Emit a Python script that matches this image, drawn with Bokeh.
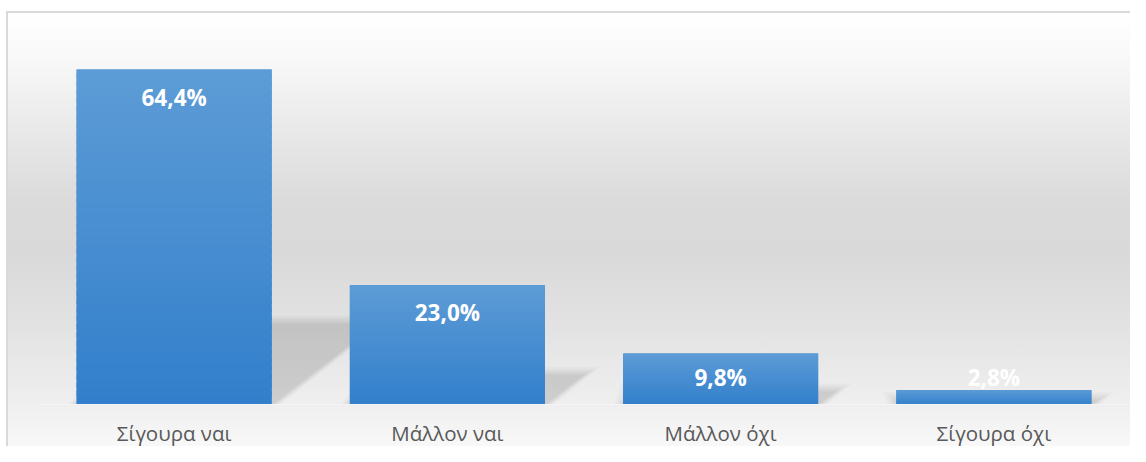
from bokeh.plotting import figure
from bokeh.models import Range1d, FixedTicker, ColumnDataSource
from bokeh.core.properties import value
from bokeh.embed import file_html
from bokeh.resources import INLINE

categories = ["Σίγουρα ναι", "Μάλλον ναι", "Μάλλον όχι", "Σίγουρα όχι"]
values = [64.4, 23.0, 9.8, 2.8]
labels = ["64,4%", "23,0%", "9,8%", "2,8%"]

Y_MAX = 70
W, H = 1130, 446
B_LEFT, B_RIGHT, B_TOP, B_BOTTOM = 37, 0, 40, 0
PLOT_H = 364                      # height in px of 0..Y_MAX
FRAME_W = W - B_LEFT - B_RIGHT
FRAME_H = H - B_TOP - B_BOTTOM
PPU_Y = PLOT_H / Y_MAX
PPU_X = FRAME_W / len(categories)
Y_MIN = Y_MAX - FRAME_H / PPU_Y
BAR_W = 195 / PPU_X

bg_gradient = ("linear-gradient(to bottom, #ffffff 0px, #ffffff 13px, #f8f8f8 60px, "
               "#e9e9e9 130px, #dbdbdb 200px, #d9d9d9 250px, #e3e3e3 330px, "
               "#efefef 404px, #f8f8f8 446px)")
p = figure(width=W, height=H, output_backend="svg", toolbar_location=None,
           x_range=Range1d(0, len(categories)), y_range=Range1d(Y_MIN, Y_MAX),
           min_border_left=B_LEFT, min_border_right=B_RIGHT,
           min_border_top=B_TOP, min_border_bottom=B_BOTTOM)
p.styles = {
    "background": ("linear-gradient(#d9d9d9,#d9d9d9) 6px 11px / 2px 100% no-repeat, "
                   "linear-gradient(#d9d9d9,#d9d9d9) 6px 11px / 100% 2px no-repeat, "
                   + bg_gradient + " 8px 0px / 100% 100% no-repeat, #ffffff"),
}
p.background_fill_alpha = 0
p.border_fill_alpha = 0
p.outline_line_color = None
p.grid.visible = False
p.yaxis.visible = False

xs = [i + 0.5 for i in range(len(categories))]

# perspective shadows (blurred by layered expansion)
def shadow_poly(xc, v, grow_px):
    gx = grow_px / PPU_X
    gy = grow_px / PPU_Y
    h = 0.24 * v
    s = 1.62 * v * (PPU_Y / 5.2) / PPU_X
    xl = xc - BAR_W / 2 - gx
    xr = xc + BAR_W / 2 + gx
    return ([xl, xr, xr + s + gx, xl + s - gx], [0, 0, h + gy, h + gy])

for grow, alpha in [(9, 0.018), (7, 0.022), (5, 0.026), (3, 0.03), (1, 0.034)]:
    sx, sy = [], []
    for xc, v in zip(xs, values):
        a, b = shadow_poly(xc, v, grow)
        sx.append(a)
        sy.append(b)
    p.patches(sx, sy, fill_color="black", fill_alpha=alpha, line_color=None)

# gradient bars (light top -> darker bottom)
top_rgb = (93, 156, 214)
bot_rgb = (50, 127, 203)
mid = "#%02x%02x%02x" % tuple(round((a + b) / 2) for a, b in zip(top_rgb, bot_rgb))
p.vbar(x=xs, top=values, bottom=0, width=BAR_W, fill_color=mid, line_color=None)
N = 40
bx, bt, bb, bc = [], [], [], []
for xc, v in zip(xs, values):
    for i in range(N):
        f = (i + 0.5) / N
        r = round(bot_rgb[0] + (top_rgb[0] - bot_rgb[0]) * f)
        g = round(bot_rgb[1] + (top_rgb[1] - bot_rgb[1]) * f)
        b = round(bot_rgb[2] + (top_rgb[2] - bot_rgb[2]) * f)
        bx.append(xc)
        bb.append(v * i / N)
        bt.append(min(v, v * (i + 1.6) / N))
        bc.append("#%02x%02x%02x" % (r, g, b))
p.vbar(x=bx, top=bt, bottom=bb, width=BAR_W, fill_color=bc, line_color=None)

# data labels: inside end, or bottom-anchored box when bar too short
ly, loff = [], []
for v in values:
    if v * PPU_Y >= 56:
        ly.append(v)
        loff.append(28)
    else:
        ly.append(0)
        loff.append(-27.5)
src = ColumnDataSource(dict(x=xs, y=ly, t=labels, off=loff))
p.text(x="x", y="y", text="t", y_offset="off", source=src, text_align="center",
       text_baseline="middle", text_color="white", text_font=value("Open Sans"),
       text_font_style="bold", text_font_size="22.5px")

ax = p.xaxis[0]
ax.fixed_location = 0
ax.ticker = FixedTicker(ticks=xs)
ax.major_label_overrides = {x: c for x, c in zip(xs, categories)}
ax.major_tick_line_color = None
ax.minor_tick_line_color = None
ax.major_tick_out = 0
ax.major_tick_in = 0
ax.axis_line_color = "#f4f4f4"
ax.major_label_standoff = 14
ax.major_label_text_font = "Open Sans"
ax.major_label_text_font_size = "20.5px"
ax.major_label_text_color = "#595959"

open("out.html", "w").write(file_html(p, INLINE))
